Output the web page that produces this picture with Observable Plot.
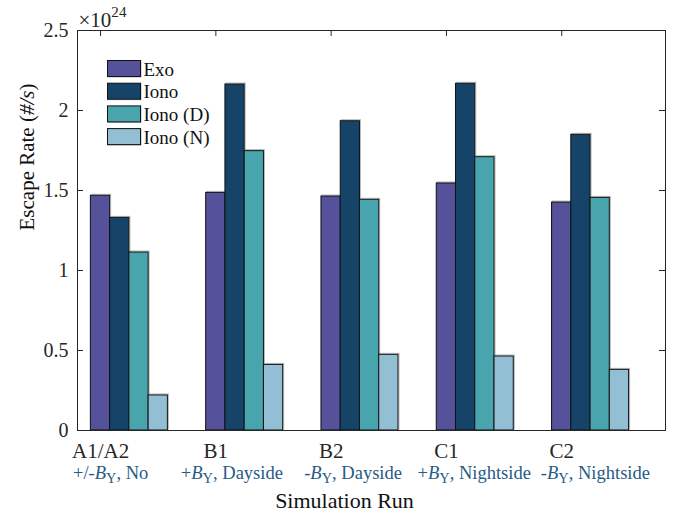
<!DOCTYPE html>
<html><head><meta charset="utf-8">
<script src="https://cdn.jsdelivr.net/npm/d3@7"></script>
<script src="https://cdn.jsdelivr.net/npm/@observablehq/plot@0.6"></script>
<style>body{margin:0;background:#fff}#chart{position:relative;width:678px;height:515px}</style>
</head><body><div id="chart"></div>
<script>
// ---- data ----
const runs = ["A1/A2", "B1", "B2", "C1", "C2"];
const subPrefix = ["+/-", "+", "-", "+", "-"];
const subSuffix = ["No", "Dayside", "Dayside", "Nightside", "Nightside"];
const series = ["Exo", "Iono", "Iono (D)", "Iono (N)"];
const exo   = [1.467, 1.485, 1.4625, 1.544, 1.425];
const iono  = [1.329, 2.1625, 1.933, 2.167, 1.848];
const ionoD = [1.1125, 1.746, 1.442, 1.708, 1.454];
const ionoN = [0.219, 0.41, 0.473, 0.4625, 0.379];
const yTicks = [0, 0.5, 1, 1.5, 2, 2.5];
const yTickLabels = ["0", "0.5", "1", "1.5", "2", "2.5"];
const colors = ["#55519b", "#154468", "#49a5ad", "#92bfd4"];

// ---- layout ----
const W = 678, H = 515;
const mL = 77, mR = 13, mT = 30, mB = 85;
const xDom = [0.8, 5.9], yDom = [0, 2.5];
const pxX = (W - mL - mR) / (xDom[1] - xDom[0]);
const pxY = (H - mT - mB) / (yDom[1] - yDom[0]);
const bw = 0.167, groupShift = 0.25;
const tLx = 6 / pxX, tLy = 6 / pxY;
const ks = runs.map((d, i) => i + 1);
const subX = k => 3.19 + (k - 3) * 1.051;
const vals = [exo, iono, ionoD, ionoN];
const table = runs.flatMap((r, i) => series.map((s, j) => ({run: r, k: i + 1, j, series: s, value: vals[j][i]})));
const serif = "'Liberation Serif','Times New Roman',serif";
const subColor = "#265b86";

const plot = Plot.plot({
  width: W, height: H,
  marginLeft: mL, marginRight: mR, marginTop: mT, marginBottom: mB,
  style: {fontFamily: serif, background: "#fff", color: "#262626"},
  x: {domain: xDom, axis: null},
  y: {domain: yDom, axis: null},
  color: {domain: series, range: colors},
  marks: [
    // bottom ticks (hidden behind bars like the original)
    Plot.ruleX(ks, {x: d => d, y1: 0, y2: tLy, stroke: "#262626"}),
    // bar shadow
    Plot.rect(table, {x1: d => d.k + groupShift + (d.j - 2) * bw, x2: d => d.k + groupShift + (d.j - 1) * bw,
      y1: 0, y2: "value", fill: "none", stroke: "#b5b5b5", strokeWidth: 1, dx: 1, dy: -1}),
    // bars
    Plot.rect(table, {x1: d => d.k + groupShift + (d.j - 2) * bw, x2: d => d.k + groupShift + (d.j - 1) * bw,
      y1: 0, y2: "value", fill: "series", stroke: "#111", strokeWidth: 1}),
    // inward ticks
    Plot.ruleY(yTicks, {y: d => d, x1: xDom[0], x2: xDom[0] + tLx, stroke: "#262626"}),
    Plot.ruleY(yTicks, {y: d => d, x1: xDom[1] - tLx, x2: xDom[1], stroke: "#262626"}),
    Plot.ruleX(ks, {x: d => d, y1: yDom[1], y2: yDom[1] - tLy, stroke: "#262626"}),
    Plot.frame({stroke: "#262626", strokeWidth: 1}),
    // y tick labels
    Plot.text(yTicks, {x: xDom[0], y: d => d, text: (d, i) => yTickLabels[i], textAnchor: "end", dx: -9, fontSize: 20, fill: "#262626"}),
    // exponent
    Plot.text([0], {frameAnchor: "top-left", text: () => "×10[sup]24[/sup]", textAnchor: "start", lineAnchor: "bottom", dx: 1, dy: -4, fontSize: 21, fill: "#262626"}),
    // x tick labels
    Plot.text(runs, {x: (d, i) => i + 1, y: 0, text: d => d, dy: 21, fontSize: 21, fill: "#262626"}),
    Plot.text(runs, {x: (d, i) => subX(i + 1), y: 0, text: (d, i) => subPrefix[i] + "[i]B[/i][sub]Y[/sub], " + subSuffix[i],
      lineAnchor: "bottom", dy: 48, fontSize: 18.5, fill: subColor}),
    // axis titles
    Plot.text([0], {frameAnchor: "bottom", text: () => "Simulation Run", lineAnchor: "bottom", dx: -27, dy: 77, fontSize: 22, fill: "#111"}),
    Plot.text([0], {frameAnchor: "left", text: () => "Escape Rate ([i]#/s[/i])", rotate: -90, lineAnchor: "bottom", dx: -44, fontSize: 21, fill: "#111"})
  ]
});

// rich text (italic / sub / sup)
const NS = "http://www.w3.org/2000/svg";
function richify(el) {
  const s = el.textContent;
  if (!/\[(i|sub|sup)\]/.test(s)) return;
  const fs = parseFloat(el.getAttribute("font-size") || el.closest("[font-size]")?.getAttribute("font-size") || 16);
  while (el.firstChild) el.removeChild(el.firstChild);
  const re = /\[(i|sub|sup)\](.*?)\[\/\1\]/g;
  let last = 0, m, shift = 0;
  const add = (str, kind) => {
    if (!str) return;
    const t = document.createElementNS(NS, "tspan");
    t.textContent = str;
    let target = 0;
    if (kind === "i") t.setAttribute("font-style", "italic");
    if (kind === "sub") { target = 0.26 * fs; t.setAttribute("font-size", 0.78 * fs); }
    if (kind === "sup") { target = -0.45 * fs; t.setAttribute("font-size", 0.72 * fs); }
    if (target !== shift) { t.setAttribute("dy", target - shift); shift = target; }
    el.appendChild(t);
  };
  while ((m = re.exec(s))) { add(s.slice(last, m.index), "plain"); add(m[2], m[1]); last = re.lastIndex; }
  add(s.slice(last), "plain");
}
plot.querySelectorAll("text").forEach(richify);

// legend (inside the axes, no box)
const svg = d3.select(plot);
const leg = svg.append("g").attr("font-family", serif).attr("font-size", 19).attr("text-anchor", "start");
series.forEach((s, j) => {
  const y0 = 60 + j * 22.7;
  leg.append("rect").attr("x", 108).attr("y", y0 + 1).attr("width", 33).attr("height", 16).attr("fill", "none").attr("stroke", "#b5b5b5");
  leg.append("rect").attr("x", 107.5).attr("y", y0 + 0.5).attr("width", 33).attr("height", 16).attr("fill", colors[j]).attr("stroke", "#111");
  leg.append("text").attr("x", 143.5).attr("y", y0 + 15.5).attr("fill", "#111").text(s);
});

document.getElementById("chart").appendChild(plot);
</script>
</body></html>
